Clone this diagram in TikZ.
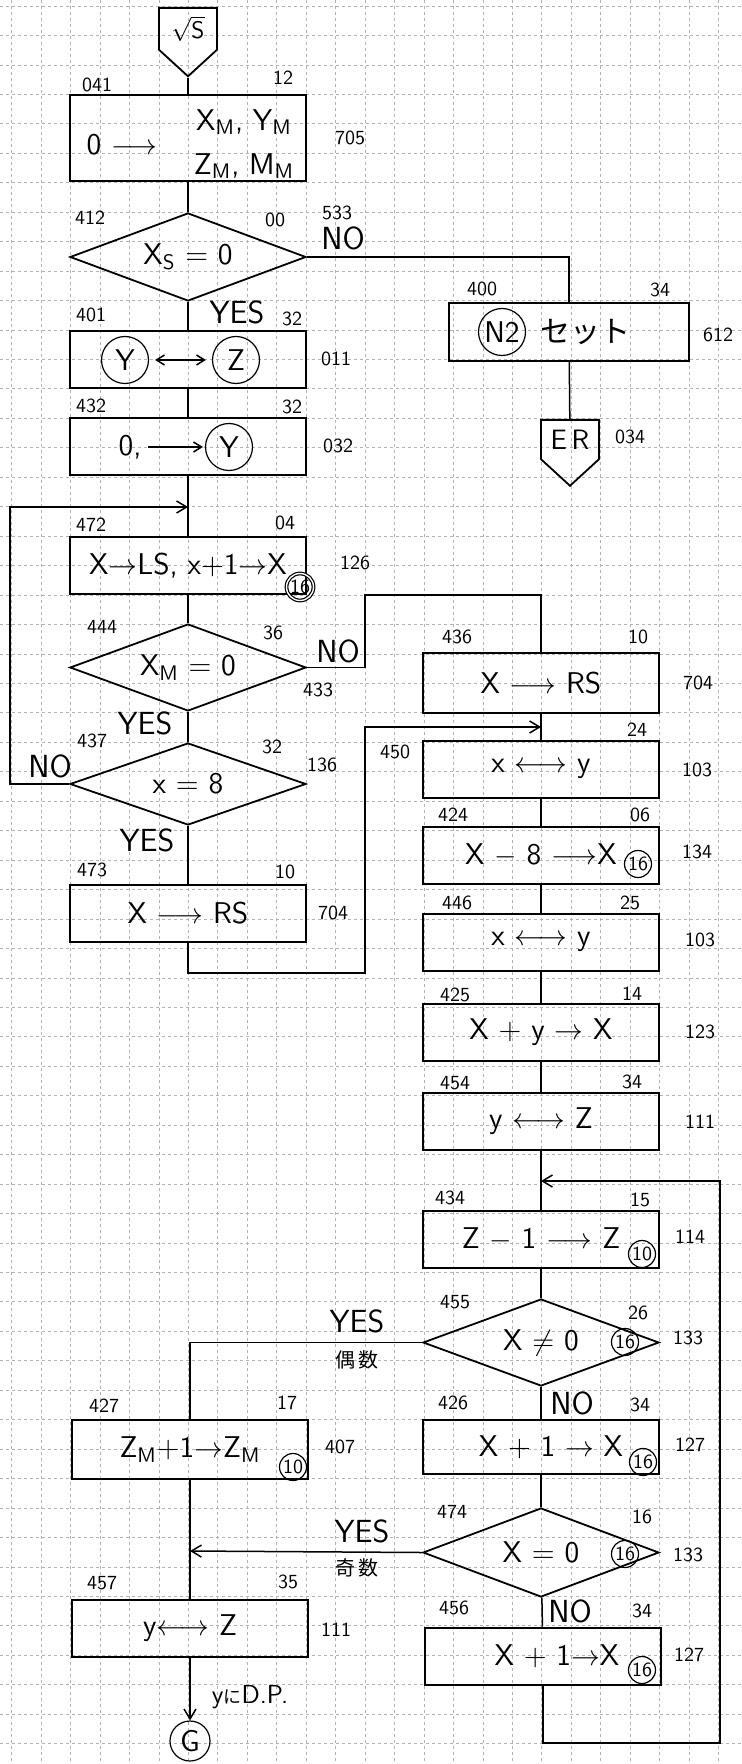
\documentclass[tikz,border=0pt]{standalone}
\usepackage{fontspec}
\newfontfamily\jpfont{Noto Sans CJK JP}
\usetikzlibrary{arrows.meta, shapes.geometric, shapes.symbols, calc}
\tikzset{
    my-grid/.style={
        draw=gray!60, line width=0.4pt, dash pattern=on 1.4pt off 1.6pt
    },
    my-box/.style={
        draw, line width=1pt, minimum width=118pt, minimum height=28.5pt,
        inner sep=0pt, font=\sffamily\fontsize{15}{18}\selectfont
    },
    my-decision/.style={
        diamond, draw, line width=0.9pt, minimum width=118pt, minimum height=44pt,
        inner sep=0pt, aspect=2.7, font=\sffamily\fontsize{15}{18}\selectfont
    },
    my-offpage/.style={
        signal, signal to=south, signal pointer angle=95, draw, line width=0.9pt,
        minimum width=29pt, minimum height=28.5pt, inner sep=0pt,
        font=\sffamily\fontsize{12}{14}\selectfont
    },
    my-op/.style={
        inner sep=0pt, font=\sffamily\fontsize{15}{18}\selectfont
    },
    my-ring/.style={
        circle, draw, line width=0.6pt, minimum size=23.5pt, inner sep=0pt,
        font=\sffamily\fontsize{15}{18}\selectfont
    },
    my-base/.style={
        circle, draw, line width=0.6pt, minimum size=13.5pt, inner sep=0pt,
        font=\sffamily\fontsize{10}{12}\selectfont
    },
    my-tag/.style={
        inner sep=0pt, font=\sffamily\fontsize{10}{12}\selectfont
    },
    my-answer/.style={
        inner sep=0pt, font=\sffamily\fontsize{16}{18}\selectfont
    },
    my-wire/.style={
        draw, line width=0.75pt
    },
    my-arrow/.style={
        my-wire, -{Straight Barb[length=5pt, width=6pt]}
    },
}

\begin{document}
\begin{tikzpicture}[x=0.5pt, y=-0.5pt]

        % PAPER
        \useasboundingbox (0,0) rectangle (741,1764);
        \foreach \i in {0,...,24} {
            \draw[my-grid] ({11.7+29.45*\i},0) -- ({11.7+29.45*\i},1764);
        }
        \foreach \j in {0,...,59} {
            \draw[my-grid] (0,{6.05+29.45*\j}) -- (741,{6.05+29.45*\j});
        }

        % ENTRY AND CLEAR
        \node[my-offpage, anchor=north] (START) at (188,7)  {\raisebox{-2pt}{$\sqrt{\mathsf{S}}$}};
        \node[my-box, minimum height=43pt] (B041) at (188,138) {};
        \node[my-op] (B041L) at (122,145) {0 $\longrightarrow$};
        \node[my-op] (B041A) at (244,122) {X\textsubscript{M}, Y\textsubscript{M}};
        \node[my-op] (B041B) at (244,166) {Z\textsubscript{M}, M\textsubscript{M}};
        \node[my-tag] (T041) at (97,85)   {041};
        \node[my-tag] (T12)  at (283,78)  {12};
        \node[my-tag] (T705) at (350,138) {705};

        % XS = 0
        \node[my-decision] (D412) at (188,257) {X\textsubscript{S} = 0};
        \node[my-tag]    (T412)  at (90,218)  {412};
        \node[my-tag]    (T00)   at (275,220) {00};
        \node[my-tag]    (T533)  at (337,213) {533};
        \node[my-answer] (NO412) at (343,238) {NO};
        \node[my-answer] (YES412) at (237,312) {YES};

        % ERROR BRANCH
        \node[my-box, minimum width=120pt, minimum height=29pt] (B400) at (569,332) {};
        \node[my-ring] (N2)   at (502,332) {N2};
        \node[my-op]   (SET)  at (585,332) {\jpfont セット};
        \node[my-tag]  (T400) at (482,289) {400};
        \node[my-tag]  (T34a) at (660,290) {34};
        \node[my-tag]  (T612) at (718,335) {612};
        \node[my-offpage, anchor=north, font=\sffamily\fontsize{14}{16}\selectfont] (ER) at (570,419) {E\,R};
        \node[my-tag]  (T034) at (630,437) {034};

        % SWAP Y Z
        \node[my-box] (B401) at (188,360) {};
        \node[my-ring] (Y401) at (125,360) {Y};
        \node[my-ring] (Z401) at (236,360) {Z};
        \node[my-tag]  (T401) at (91,315)  {401};
        \node[my-tag]  (T32a) at (292,319) {32};
        \node[my-tag]  (T011) at (336,359) {011};

        % CLEAR Y
        \node[my-box] (B432) at (188,446.5) {};
        \node[my-op]   (O432) at (130,447) {0,};
        \node[my-ring] (Y432) at (229,447) {Y};
        \node[my-tag]  (T432) at (91,406)  {432};
        \node[my-tag]  (T32b) at (292,407) {32};
        \node[my-tag]  (T032) at (338,446) {032};

        % SHIFT LOOP
        \node[my-box] (B472) at (188,565.5) {X$\rightarrow$LS, x+1$\rightarrow$X};
        \node[my-base, double, double distance=0.7pt] (H472) at (300,587) {16};
        \node[my-tag]  (T472) at (91,525)  {472};
        \node[my-tag]  (T04)  at (285,523) {04};
        \node[my-tag]  (T126) at (355,563) {126};

        \node[my-decision, minimum height=43.5pt] (D444) at (188,667.5) {X\textsubscript{M} = 0};
        \node[my-tag]    (T444)  at (102,627) {444};
        \node[my-tag]    (T36)   at (273,633) {36};
        \node[my-answer] (NO444) at (338,651) {NO};
        \node[my-tag]    (T433)  at (318,690) {433};
        \node[my-answer] (YES444) at (145,723) {YES};

        \node[my-decision, minimum height=41pt] (D437) at (188,784) {x = 8};
        \node[my-tag]    (T437)  at (92,741)  {437};
        \node[my-tag]    (T32c)  at (272,747) {32};
        \node[my-tag]    (T136)  at (322,765) {136};
        \node[my-answer] (NO437) at (50,766)  {NO};
        \node[my-answer] (YES437) at (147,840) {YES};

        \node[my-box] (B473) at (188,913.5) {X $\longrightarrow$ RS};
        \node[my-tag]  (T473)  at (92,870)  {473};
        \node[my-tag]  (T10a)  at (285,872) {10};
        \node[my-tag]  (T704a) at (333,913) {704};

        % RIGHT COLUMN
        \node[my-box, minimum height=30pt] (B436) at (541,683) {X $\longrightarrow$ RS};
        \node[my-tag]  (T436)  at (457,637) {436};
        \node[my-tag]  (T10b)  at (638,637) {10};
        \node[my-tag]  (T704b) at (698,683) {704};

        \node[my-box] (B450) at (541,769) {x $\longleftrightarrow$ y};
        \node[my-tag]  (T450)  at (395,752) {450};
        \node[my-tag]  (T24)   at (637,730) {24};
        \node[my-tag]  (T103a) at (697,770) {103};

        \node[my-box] (B424) at (541,855.5) {X $-$ 8 $\longrightarrow$X\hspace{14pt}};
        \node[my-base] (H424)  at (638,864) {16};
        \node[my-tag]  (T424)  at (453,815) {424};
        \node[my-tag]  (T06)   at (640,815) {06};
        \node[my-tag]  (T134)  at (697,852) {134};

        \node[my-box] (B446) at (541,942) {x $\longleftrightarrow$ y};
        \node[my-tag]  (T446)  at (457,903) {446};
        \node[my-tag]  (T25)   at (630,903) {25};
        \node[my-tag]  (T103b) at (700,940) {103};

        \node[my-box] (B425) at (541,1032) {X + y $\rightarrow$ X};
        \node[my-tag]  (T425)  at (455,995)  {425};
        \node[my-tag]  (T14)   at (632,994)  {14};
        \node[my-tag]  (T123)  at (700,1032) {123};

        \node[my-box] (B454) at (541,1121) {y $\longleftrightarrow$ Z};
        \node[my-tag]  (T454)  at (455,1083) {454};
        \node[my-tag]  (T34b)  at (632,1082) {34};
        \node[my-tag]  (T111a) at (700,1122) {111};

        \node[my-box] (B434) at (541,1239) {Z $-$ 1 $\longrightarrow$ Z};
        \node[my-base] (H434)  at (642,1254) {10};
        \node[my-tag]  (T434)  at (450,1198) {434};
        \node[my-tag]  (T15)   at (640,1200) {15};
        \node[my-tag]  (T114)  at (690,1237) {114};

        \node[my-decision, minimum height=43.5pt] (D455) at (541,1342.5) {X $\neq$ 0};
        \node[my-base] (H455)  at (625,1342) {16};
        \node[my-tag]  (T455)  at (455,1302) {455};
        \node[my-tag]  (T26)   at (638,1313) {26};
        \node[my-tag]  (T133a) at (688,1338) {133};
        \node[my-answer] (YES455) at (357,1321) {YES};
        \node[my-tag]  (EVEN)  at (357,1360) {\jpfont 偶\,数};
        \node[my-answer] (NO455) at (572,1403) {NO};
        \node[my-tag]  (T426)  at (453,1403) {426};
        \node[my-tag]  (T34c)  at (640,1405) {34};

        \node[my-box, minimum height=27pt] (B426) at (541,1447) {\hspace{10pt}X + 1 $\rightarrow$ X};
        \node[my-base] (H426)  at (643,1462) {16};
        \node[my-tag]  (T127a) at (690,1445) {127};

        \node[my-decision, minimum height=44.5pt] (D474) at (541,1552.5) {X = 0};
        \node[my-base] (H474)  at (625,1554) {16};
        \node[my-tag]  (T474)  at (452,1512) {474};
        \node[my-tag]  (T16)   at (642,1517) {16};
        \node[my-tag]  (T133b) at (688,1555) {133};
        \node[my-answer] (YES474) at (362,1531) {YES};
        \node[my-tag]  (ODD)   at (357,1568) {\jpfont 奇\,数};
        \node[my-answer] (NO474) at (570,1611) {NO};
        \node[my-tag]  (T456)  at (454,1608) {456};
        \node[my-tag]  (T34d)  at (642,1611) {34};

        \node[my-box] (B456) at (543,1656) {\hspace{14pt}X + 1$\rightarrow$X};
        \node[my-base] (H456)  at (642,1670) {16};
        \node[my-tag]  (T127b) at (689,1655) {127};

        % EXIT COLUMN
        \node[my-box, minimum height=29.5pt] (B427) at (190,1449.5) {Z\textsubscript{M}+1$\rightarrow$Z\textsubscript{M}\hspace{8pt}};
        \node[my-base] (H427)  at (293,1467) {10};
        \node[my-tag]  (T427)  at (104,1406) {427};
        \node[my-tag]  (T17)   at (287,1403) {17};
        \node[my-tag]  (T407)  at (340,1447) {407};

        \node[my-box] (B457) at (190,1628) {y$\longleftrightarrow$ Z};
        \node[my-tag]  (T457)  at (102,1583) {457};
        \node[my-tag]  (T35)   at (288,1582) {35};
        \node[my-tag]  (T111c) at (336,1630) {111};

        \node[my-ring, minimum size=20pt] (G) at (190,1741) {G};
        \node[my-tag, font=\sffamily\fontsize{13}{15}\selectfont] (DP) at (250,1697) {y{\jpfont\fontsize{9}{10}\selectfont に}D.P.};

        % JUNCTION POINTS
        \coordinate (J472) at (188,507);
        \coordinate (L437) at (10,507);
        \coordinate (N444) at (365,595);
        \coordinate (J436) at (541,595);
        \coordinate (R473) at (365,973);
        \coordinate (J450) at (541,727);
        \coordinate (R456) at (720,1743);
        \coordinate (J434) at (541,1181);
        \coordinate (J457) at (190,1551);

        % CONNECTIONS - LEFT
        \draw[my-wire] (START.south) -- (B041.north);
        \draw[my-wire] (B041) -- (D412);
        \draw[my-wire] (D412) -- (B401);
        \draw[my-wire] (B401) -- (B432);
        \draw[my-wire] (B432) -- (B472);
        \draw[my-wire] (B472) -- (D444);
        \draw[my-wire] (D444) -- (D437);
        \draw[my-wire] (D437) -- (B473);
        \draw[my-arrow] (D437.west) -| (L437) -- (J472);
        \draw[my-wire] (Y401) edge[<->, >={Straight Barb[length=4pt, width=5pt]}, shorten <=3pt, shorten >=3pt] (Z401);
        \draw[my-wire] (O432) edge[->, >={Straight Barb[length=4pt, width=5pt]}, shorten <=3pt, shorten >=1pt] (Y432);

        % CONNECTIONS - ERROR
        \draw[my-wire] (D412.east) -| (B400.north);
        \draw[my-wire] (B400) -- (ER);

        % CONNECTIONS - RIGHT
        \draw[my-wire] (D444.east) -| (N444) -- (J436) -- (B436.north);
        \draw[my-arrow] (B473.south) |- (R473) |- (J450);
        \draw[my-wire] (B436) -- (B450);
        \draw[my-wire] (B450) -- (B424);
        \draw[my-wire] (B424) -- (B446);
        \draw[my-wire] (B446) -- (B425);
        \draw[my-wire] (B425) -- (B454);
        \draw[my-wire] (B454) -- (B434);
        \draw[my-wire] (B434) -- (D455);
        \draw[my-wire] (D455) -- (B426);
        \draw[my-wire] (B426) -- (D474);
        \draw[my-wire] (D474) -- (B456);
        \draw[my-arrow] (B456.south) |- (R456) |- (J434);

        % CONNECTIONS - EXIT
        \draw[my-wire] (D455.west) -| (B427.north);
        \draw[my-arrow] (D474.west) -- (J457);
        \draw[my-wire] (B427) -- (B457);
        \draw[my-arrow] (B457) -- (G);

    \end{tikzpicture}
\end{document}
